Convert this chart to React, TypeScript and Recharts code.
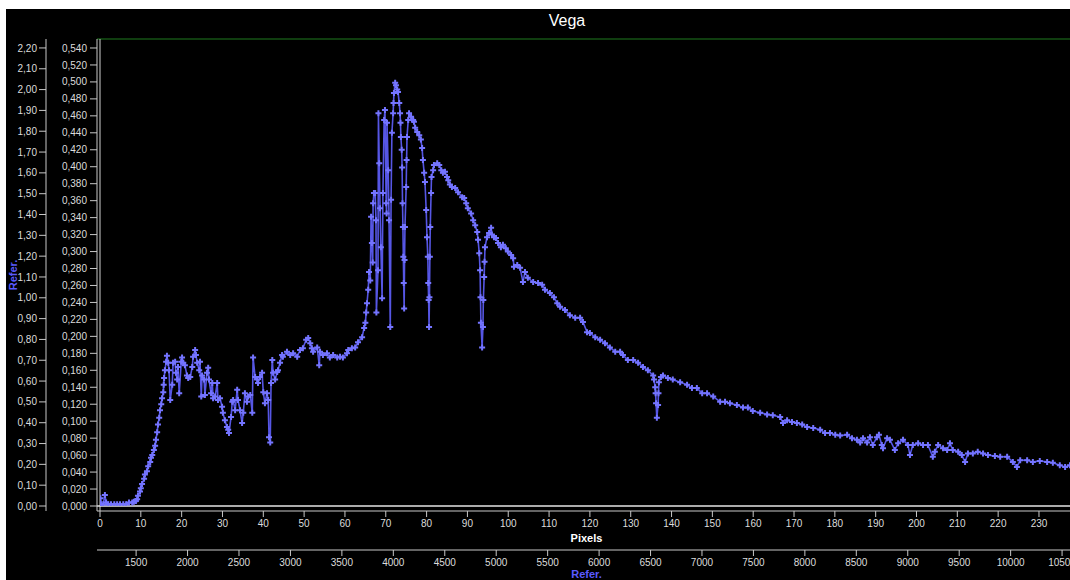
import React from "react"
import { LineChart, Line, XAxis, YAxis, ReferenceLine } from "recharts"

// [pixel, flux], split by region of the spectrum
const uvRise: [number, number][] = [
  [0.0, 0.002], [0.1, 0.009], [0.3, 0.002], [0.8, 0.002], [1.2, 0.013], [1.5, 0.004], [2.0, 0.002],
  [2.7, 0.002], [3.5, 0.002], [4.2, 0.002], [4.9, 0.002], [5.7, 0.002], [6.4, 0.002], [7.1, 0.004],
  [7.9, 0.004], [8.3, 0.005], [8.8, 0.006], [9.1, 0.008], [9.3, 0.012], [9.8, 0.017], [10.0, 0.021],
  [10.3, 0.026], [10.8, 0.032], [11.0, 0.037], [11.5, 0.041], [11.8, 0.047], [12.3, 0.052], [12.5, 0.057],
  [12.8, 0.060], [13.2, 0.066], [13.5, 0.071], [13.7, 0.078], [14.0, 0.087], [14.2, 0.096], [14.5, 0.104],
  [14.7, 0.113], [15.0, 0.120], [15.2, 0.127], [15.5, 0.134], [15.6, 0.143], [15.7, 0.151], [15.9, 0.160],
  [16.2, 0.170], [16.4, 0.177],
]

const uvBands: [number, number][] = [
  [16.7, 0.169], [16.9, 0.160], [17.2, 0.125], [17.7, 0.143], [17.9, 0.169], [18.4, 0.170], [18.6, 0.157],
  [18.9, 0.149], [19.1, 0.164], [19.4, 0.133], [19.9, 0.170], [20.1, 0.175], [20.4, 0.169], [20.8, 0.166],
  [21.3, 0.154], [21.6, 0.151], [22.1, 0.152], [22.6, 0.164], [22.8, 0.176], [23.3, 0.184], [23.5, 0.178],
  [23.8, 0.169], [24.3, 0.160], [24.5, 0.170], [24.8, 0.129], [25.0, 0.154], [25.5, 0.149], [25.7, 0.131],
  [26.2, 0.157], [26.5, 0.163], [26.7, 0.149], [27.2, 0.133], [27.5, 0.145], [27.7, 0.127], [28.2, 0.129],
  [28.7, 0.145], [28.9, 0.125], [29.4, 0.127], [29.9, 0.117], [30.1, 0.110], [30.6, 0.101], [31.1, 0.093],
  [31.4, 0.090], [31.6, 0.086], [32.1, 0.105], [32.4, 0.123], [32.6, 0.125], [33.1, 0.113], [33.6, 0.137],
  [33.8, 0.125], [34.3, 0.113], [34.8, 0.098], [35.1, 0.110], [35.5, 0.133], [36.0, 0.123], [36.3, 0.129],
  [36.8, 0.131], [37.3, 0.110], [37.5, 0.175], [38.0, 0.152], [38.5, 0.149], [38.7, 0.145], [39.2, 0.152],
  [39.7, 0.157], [40.0, 0.134], [40.4, 0.121], [40.9, 0.133], [41.2, 0.125], [41.4, 0.081], [41.7, 0.075],
  [41.9, 0.145], [42.2, 0.172], [42.4, 0.157], [42.9, 0.149], [43.4, 0.158], [43.6, 0.160], [44.1, 0.169],
  [44.6, 0.178], [44.8, 0.176], [45.8, 0.182], [46.6, 0.178], [47.3, 0.180], [48.3, 0.176], [49.0, 0.184],
  [49.7, 0.186], [50.5, 0.196], [51.0, 0.198], [51.5, 0.192], [51.9, 0.186], [52.2, 0.182], [53.2, 0.187],
  [53.7, 0.166], [53.9, 0.182], [54.6, 0.178], [55.6, 0.180], [56.3, 0.175], [57.1, 0.178], [58.1, 0.175],
  [58.8, 0.176], [59.5, 0.175], [60.5, 0.180], [60.8, 0.184], [61.7, 0.186], [62.5, 0.187], [63.2, 0.193],
  [64.2, 0.199],
]

const balmerLines: [number, number][] = [
  [64.7, 0.210], [65.0, 0.216], [65.2, 0.228], [65.4, 0.239], [65.7, 0.255], [65.9, 0.276], [66.2, 0.266],
  [66.4, 0.341], [66.6, 0.310], [66.8, 0.287], [66.9, 0.357], [67.1, 0.369], [67.4, 0.369], [67.6, 0.337],
  [67.7, 0.228], [68.1, 0.278], [68.2, 0.463], [68.4, 0.404], [68.6, 0.351], [68.8, 0.305], [69.1, 0.245],
  [69.3, 0.369], [69.6, 0.455], [69.8, 0.467], [70.1, 0.357], [70.2, 0.345], [70.3, 0.452], [70.6, 0.396],
  [70.8, 0.337], [71.1, 0.211], [71.3, 0.361], [71.5, 0.440], [71.8, 0.463], [71.9, 0.475], [72.0, 0.487],
  [72.3, 0.499], [72.5, 0.496], [72.8, 0.491], [73.0, 0.488], [73.3, 0.475], [73.5, 0.463], [73.6, 0.452],
  [73.7, 0.435], [73.9, 0.420], [74.0, 0.399], [74.1, 0.357], [74.2, 0.329], [74.3, 0.294], [74.4, 0.263],
  [74.5, 0.233], [74.6, 0.290], [74.7, 0.329], [75.0, 0.376], [75.1, 0.408], [75.2, 0.435], [75.5, 0.455],
  [75.7, 0.463], [76.2, 0.459], [76.7, 0.455], [76.9, 0.453], [77.2, 0.446], [77.7, 0.441], [78.2, 0.437],
  [78.6, 0.432], [78.9, 0.422], [79.1, 0.408], [79.4, 0.393], [79.6, 0.382], [79.9, 0.349], [80.1, 0.317],
  [80.3, 0.294], [80.4, 0.263], [80.5, 0.243], [80.6, 0.211], [80.7, 0.246], [80.8, 0.294], [80.9, 0.329],
  [81.1, 0.369], [81.2, 0.388], [81.6, 0.396], [81.8, 0.402], [82.6, 0.404], [83.1, 0.402], [83.6, 0.396],
  [84.0, 0.393], [84.5, 0.394], [85.0, 0.388], [85.3, 0.384], [85.7, 0.379], [86.2, 0.376], [87.0, 0.375],
  [87.7, 0.370], [88.7, 0.364], [89.2, 0.363], [89.7, 0.357], [90.1, 0.351], [90.9, 0.345], [91.4, 0.337],
  [91.9, 0.331], [92.4, 0.323], [92.6, 0.314], [92.9, 0.298], [93.1, 0.278], [93.2, 0.246], [93.3, 0.216],
  [93.6, 0.187], [93.8, 0.211], [93.9, 0.243], [94.1, 0.270], [94.2, 0.288], [94.3, 0.305],
]

const redTail: [number, number][] = [
  [94.8, 0.317], [95.3, 0.322], [95.8, 0.328], [96.0, 0.320], [96.5, 0.317], [97.0, 0.316], [97.5, 0.310],
  [98.2, 0.305], [98.7, 0.308], [99.4, 0.304], [99.9, 0.300], [100.7, 0.296], [101.2, 0.292], [101.4, 0.282],
  [102.2, 0.284], [102.9, 0.281], [103.6, 0.264], [104.1, 0.276], [104.8, 0.269], [106.1, 0.264], [107.3, 0.263],
  [108.3, 0.261], [109.0, 0.255], [110.2, 0.251], [111.2, 0.246], [112.0, 0.239], [112.7, 0.235], [113.9, 0.231],
  [115.1, 0.225], [116.4, 0.222], [117.6, 0.222], [118.3, 0.217], [119.3, 0.205], [120.0, 0.204], [121.3, 0.199],
  [122.5, 0.196], [123.7, 0.192], [124.9, 0.187], [126.2, 0.182], [127.4, 0.182], [128.1, 0.178], [129.3, 0.172],
  [130.6, 0.172], [131.8, 0.169], [133.0, 0.164], [134.2, 0.160], [135.5, 0.154], [135.7, 0.149], [136.0, 0.140],
  [136.1, 0.133], [136.2, 0.121], [136.4, 0.104], [136.7, 0.119], [136.8, 0.133], [136.9, 0.146], [137.4, 0.152],
  [137.9, 0.154], [139.1, 0.151], [140.3, 0.149], [142.1, 0.146], [143.8, 0.143], [145.0, 0.139], [146.2, 0.139],
  [147.5, 0.133], [148.7, 0.133], [150.2, 0.129], [151.9, 0.123], [153.1, 0.123], [154.3, 0.121], [156.0, 0.119],
  [157.5, 0.116], [158.7, 0.116], [159.9, 0.112], [161.7, 0.110], [163.4, 0.108], [164.8, 0.107], [166.6, 0.105],
  [167.3, 0.098], [168.3, 0.101], [169.5, 0.099], [170.7, 0.098], [172.0, 0.096], [173.2, 0.093], [174.7, 0.092],
  [176.4, 0.090], [177.6, 0.086], [178.8, 0.086], [180.1, 0.084], [181.3, 0.083], [183.0, 0.084], [184.2, 0.080],
  [185.4, 0.078], [186.2, 0.075], [186.9, 0.080], [187.9, 0.075], [188.6, 0.081], [189.3, 0.072], [190.3, 0.081],
  [190.8, 0.084], [191.5, 0.072], [191.8, 0.068], [192.8, 0.080], [193.5, 0.078], [194.7, 0.066], [195.5, 0.074],
  [196.7, 0.078], [197.9, 0.072], [198.4, 0.060], [199.1, 0.072], [200.4, 0.074], [201.6, 0.072], [202.8, 0.072],
  [204.0, 0.058], [204.5, 0.064], [205.3, 0.072], [206.5, 0.068], [207.5, 0.066], [208.2, 0.074], [208.9, 0.066],
  [210.2, 0.064], [211.1, 0.060], [211.9, 0.052], [212.6, 0.062], [213.8, 0.062], [215.0, 0.064], [216.3, 0.062],
  [217.5, 0.060], [219.2, 0.059], [220.5, 0.058], [222.2, 0.058], [223.6, 0.052], [224.6, 0.046], [225.4, 0.054],
  [227.1, 0.054], [228.5, 0.052], [230.2, 0.053], [232.0, 0.052], [233.4, 0.051], [235.1, 0.048], [236.4, 0.046],
  [237.6, 0.048],
]

const pixelTicks = [0, 10, 20, 30, 40, 50, 60, 70, 80, 90, 100, 110, 120, 130, 140, 150, 160, 170, 180, 190, 200, 210, 220, 230]
const angstromTicks = [1500, 2000, 2500, 3000, 3500, 4000, 4500, 5000, 5500, 6000, 6500, 7000, 7500, 8000, 8500, 9000, 9500, 10000, 10500]
const fluxTicks = [0, 0.02, 0.04, 0.06, 0.08, 0.1, 0.12, 0.14, 0.16, 0.18, 0.2, 0.22, 0.24, 0.26, 0.28, 0.3, 0.32, 0.34, 0.36, 0.38, 0.4, 0.42, 0.44, 0.46, 0.48, 0.5, 0.52, 0.54]
const relTicks = [0, 0.1, 0.2, 0.3, 0.4, 0.5, 0.6, 0.7, 0.8, 0.9, 1.0, 1.1, 1.2, 1.3, 1.4, 1.5, 1.6, 1.7, 1.8, 1.9, 2.0, 2.1, 2.2]

// wavelength calibration of the pixel axis (Å at pixel 0 and at the right edge)
const PX_MAX = 237.6
const WL_START = 1149
const WL_END = 10577
const wlToPx = (wl: number) => ((wl - WL_START) / (WL_END - WL_START)) * PX_MAX
const pxToWl = (px: number) => WL_START + (px / PX_MAX) * (WL_END - WL_START)

const data = [...uvRise, ...uvBands, ...balmerLines, ...redTail].map(([px, flux]) => ({ px, flux }))

const FONT = "'Liberation Sans', Arial, sans-serif"
const tickStyle = { fill: "#dcdcdc", fontSize: 10, fontFamily: FONT }
const comma = (d: number) => (v: number) => v.toFixed(d).replace(".", ",")

const Cross = (props: any) => {
  const { cx, cy, index } = props
  if (cx == null || cy == null) return <g key={index} />
  return (
    <path
      key={index}
      d={`M${cx - 3},${cy}h6M${cx},${cy - 3}v6`}
      stroke="#7474ff"
      strokeWidth={2}
    />
  )
}

export default function App() {
  return (
    <div style={{ position: "absolute", left: 6, top: 9, width: 1064, height: 571, background: "#000", fontFamily: FONT }}>
      <div style={{ position: "absolute", left: 561, top: 3, transform: "translateX(-50%)", color: "#fff", fontSize: 16 }}>
        Vega
      </div>
      <LineChart width={1064} height={571} data={data} margin={{ top: 30, right: 0, bottom: 0, left: 0 }}>
        <XAxis
          xAxisId="px"
          type="number"
          dataKey="px"
          domain={[0, PX_MAX]}
          allowDataOverflow
          ticks={pixelTicks}
          interval={0}
          height={39}
          padding={{ left: 3, right: 0 }}
          tick={tickStyle}
          tickSize={6}
          tickMargin={3}
          stroke="#c8c8c8"
          label={{
            content: (p: any) => (
              <text x={p.viewBox.x + p.viewBox.width / 2 + 3} y={p.viewBox.y + 31} fill="#fff" fontSize={11} fontWeight="bold" textAnchor="middle" fontFamily={FONT}>
                Pixels
              </text>
            ),
          }}
        />
        <XAxis
          xAxisId="wl"
          type="number"
          dataKey="px"
          domain={[0, PX_MAX]}
          allowDataOverflow
          ticks={angstromTicks.map(wlToPx)}
          tickFormatter={(v: number) => String(Math.round(pxToWl(v)))}
          interval={0}
          height={30}
          padding={{ left: 3, right: 0 }}
          tick={tickStyle}
          tickSize={6}
          tickMargin={3}
          stroke="#c8c8c8"
          label={{
            content: (p: any) => (
              <text x={p.viewBox.x + p.viewBox.width / 2 + 3} y={p.viewBox.y + 28} fill="#5a5aff" fontSize={11} fontWeight="bold" textAnchor="middle" fontFamily={FONT}>
                Refer.
              </text>
            ),
          }}
        />
        <YAxis
          yAxisId="in"
          type="number"
          domain={[0, 0.5506]}
          allowDataOverflow
          ticks={fluxTicks}
          interval={0}
          width={51}
          padding={{ top: 0, bottom: 5 }}
          tick={tickStyle}
          tickFormatter={comma(3)}
          tickSize={7}
          tickMargin={3}
          stroke="#c8c8c8"
        />
        <YAxis
          yAxisId="out"
          type="number"
          domain={[0, 2.243]}
          allowDataOverflow
          ticks={relTicks}
          interval={0}
          width={40}
          padding={{ top: 0, bottom: 5 }}
          tick={tickStyle}
          tickFormatter={comma(2)}
          tickSize={7}
          tickMargin={2}
          stroke="#c8c8c8"
          label={{
            content: () => (
              <text x={7} y={266} transform="rotate(-90, 7, 266)" fill="#5a5aff" fontSize={11} fontWeight="bold" textAnchor="middle" dominantBaseline="central" fontFamily={FONT}>
                Refer.
              </text>
            ),
          }}
        />
        <ReferenceLine xAxisId="px" yAxisId="in" y={0.5506} stroke="#1f7a1f" />
        <ReferenceLine xAxisId="px" yAxisId="in" x={0} stroke="#d0d0d0" />
        <ReferenceLine xAxisId="px" yAxisId="in" y={0} stroke="#e6e6e6" strokeWidth={1.5} />
        <Line
          xAxisId="px"
          yAxisId="in"
          type="linear"
          dataKey="flux"
          stroke="#5656e4"
          strokeWidth={1.6}
          dot={<Cross />}
          activeDot={false}
          isAnimationActive={false}
        />
      </LineChart>
    </div>
  )
}
